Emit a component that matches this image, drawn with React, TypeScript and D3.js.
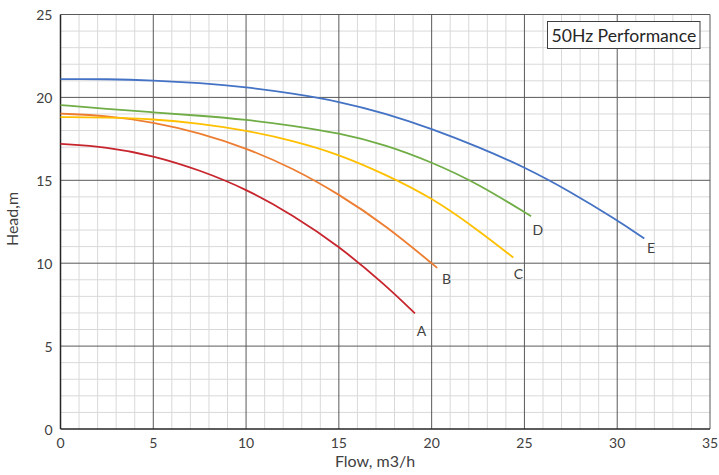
import React from "react";
import * as d3 from "d3";

// Pump curves (flow m3/h -> head m)
const flowA = [0, 2.5, 5, 7.5, 10, 12.5, 15, 17.5, 19.1];
const headA = [17.2, 17.02, 16.49, 15.62, 14.48, 12.92, 11.04, 8.69, 6.97];

const flowB = [0, 2.5, 5, 7.5, 10, 12.5, 15, 17.5, 20.3];
const headB = [19.02, 18.9, 18.51, 17.86, 16.95, 15.74, 14.17, 12.3, 9.72];

const flowC = [0, 2.5, 5, 7.5, 10, 12.5, 15, 17.5, 20, 22.5, 24.4];
const headC = [18.81, 18.79, 18.7, 18.42, 18.01, 17.4, 16.57, 15.36, 13.96, 12.0, 10.34];

const flowD = [0, 2.5, 5, 7.5, 10, 12.5, 15, 17.5, 20, 22.5, 25.36];
const headD = [19.54, 19.3, 19.1, 18.9, 18.66, 18.3, 17.85, 17.15, 16.1, 14.8, 12.83];

const flowE = [0, 2.5, 5, 7.5, 10, 12.5, 15, 17.5, 20, 22.5, 25, 27.5, 30, 31.46];
const headE = [21.1, 21.11, 21.03, 20.87, 20.62, 20.24, 19.76, 19.04, 18.11, 17.02, 15.8, 14.3, 12.59, 11.49];

const curveNames = ["A", "B", "C", "D", "E"];
const curveColors = ["#C7252D", "#ED7D31", "#FFC000", "#70AD47", "#4472C4"];
// label offsets from curve end, in data units
const labelDx = [0.35, 0.5, 0.27, 0.36, 0.36];
const labelDy = [-1.05, -0.66, -0.96, -0.8, -0.55];

const xTicks = [0, 5, 10, 15, 20, 25, 30, 35];
const yTicks = [0, 5, 10, 15, 20, 25];
const legendTitle = "50Hz Performance";

const W = 719;
const H = 475;
const margin = { left: 60.5, right: 9, top: 14.5, bottom: 46 };
const font = "Lato, 'Open Sans', sans-serif";

export default function App() {
  const x = d3.scaleLinear().domain([0, 35]).range([margin.left, W - margin.right]);
  const y = d3.scaleLinear().domain([0, 25]).range([H - margin.bottom, margin.top]);

  const series = [
    [flowA, headA],
    [flowB, headB],
    [flowC, headC],
    [flowD, headD],
    [flowE, headE],
  ].map(([fs, hs]) => fs.map((f, i) => [f, hs[i]] as [number, number]));

  const line = d3
    .line<[number, number]>()
    .x((d) => x(d[0]))
    .y((d) => y(d[1]))
    .curve(d3.curveBasis);

  const minorX = d3.range(0, 36, 1).filter((v) => v % 5 !== 0);
  const minorY = d3.range(0, 26, 1).filter((v) => v % 5 !== 0);

  const [x0, x1] = x.range();
  const [y0, y1] = y.range();

  return (
    <svg
      width={W}
      height={H}
      style={{ position: "absolute", left: 0, top: 0, background: "#fff" }}
      fontFamily={font}
    >
      {/* minor grid */}
      <g stroke="#d9d9d9" strokeWidth={1}>
        {minorX.map((v) => (
          <line key={"mx" + v} x1={x(v)} x2={x(v)} y1={y0} y2={y1} />
        ))}
        {minorY.map((v) => (
          <line key={"my" + v} x1={x0} x2={x1} y1={y(v)} y2={y(v)} />
        ))}
      </g>
      {/* major grid */}
      <g stroke="#595959" strokeWidth={1}>
        {xTicks.slice(1).map((v) => (
          <line key={"Mx" + v} x1={x(v)} x2={x(v)} y1={y0} y2={y1} />
        ))}
        {yTicks.slice(1).map((v) => (
          <line key={"My" + v} x1={x0} x2={x1} y1={y(v)} y2={y(v)} />
        ))}
      </g>
      {/* axes */}
      <g stroke="#262626" strokeWidth={1.5}>
        <line x1={x0} x2={x0} y1={y0} y2={y1} />
        <line x1={x0} x2={x1} y1={y0} y2={y0} />
      </g>

      {/* curves */}
      {series.map((pts, i) => (
        <path
          key={curveNames[i]}
          d={line(pts) || ""}
          fill="none"
          stroke={curveColors[i]}
          strokeWidth={1.8}
        />
      ))}
      {series.map((pts, i) => {
        const end = pts[pts.length - 1];
        return (
          <text
            key={"l" + curveNames[i]}
            x={x(end[0] + labelDx[i])}
            y={y(end[1] + labelDy[i])}
            fontSize={14}
            fill="#404040"
            textAnchor="middle"
            dominantBaseline="central"
          >
            {curveNames[i]}
          </text>
        );
      })}

      {/* tick labels */}
      {xTicks.map((v) => (
        <text key={"tx" + v} x={x(v)} y={y0 + 19} fontSize={14} fill="#404040" textAnchor="middle">
          {v}
        </text>
      ))}
      {yTicks.map((v) => (
        <text
          key={"ty" + v}
          x={x0 - 8}
          y={y(v)}
          fontSize={14}
          fill="#404040"
          textAnchor="end"
          dominantBaseline="central"
        >
          {v}
        </text>
      ))}

      {/* axis titles */}
      <text x={375} y={467} fontSize={16} fill="#404040" textAnchor="middle">
        Flow, m3/h
      </text>
      <text
        transform={`translate(18,219) rotate(-90)`}
        fontSize={16}
        fill="#404040"
        textAnchor="middle"
      >
        Head,m
      </text>

      {/* legend box */}
      <rect x={547.5} y={21.5} width={152.5} height={27} fill="#fff" stroke="#404040" strokeWidth={1} />
      <text x={551.5} y={41.5} fontSize={17.6} fill="#262626">
        {legendTitle}
      </text>
    </svg>
  );
}
